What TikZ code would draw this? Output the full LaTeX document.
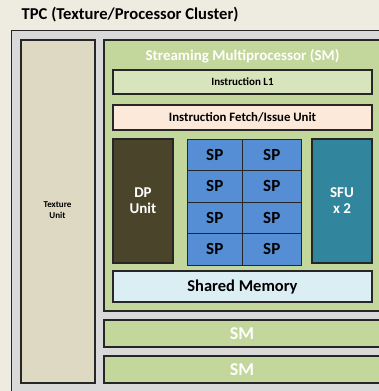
\documentclass[tikz,border=0pt]{standalone}
\usepackage{fontspec}
\setmainfont{Carlito}
\definecolor{bgc}{HTML}{EEECE1}
\definecolor{outerc}{HTML}{D9D9D9}
\definecolor{texc}{HTML}{DDD9C3}
\definecolor{smc}{HTML}{C3D69B}
\definecolor{l1c}{HTML}{D7E4BC}
\definecolor{fetchc}{HTML}{FDE9D9}
\definecolor{dpc}{HTML}{4A452A}
\definecolor{spc}{HTML}{558ED5}
\definecolor{sfuc}{HTML}{31859C}
\definecolor{shmc}{HTML}{DBEEF4}
\definecolor{linec}{HTML}{262626}
\tikzset{
  blk/.style={draw=linec, line width=1.2pt},
  lbl/.style={font=\bfseries, align=center, inner sep=0pt},
}
\begin{document}
\begin{tikzpicture}[x=1pt,y=-1pt]
\useasboundingbox (0,0) rectangle (379,391);
\fill[bgc] (0,0) rectangle (379,391);
\begin{scope}
\clip (0,0) rectangle (379,391);
\node[lbl, anchor=west, font=\fontsize{16.6}{18}\bfseries] (title) at (21.5,15) {TPC (Texture/Processor Cluster)};
\draw[blk, fill=outerc, line width=1.4pt] (11.5,30.5) rectangle (400,400);
\draw[blk, fill=texc] (21,40) rectangle (95,383);
\node[lbl, font=\fontsize{9}{11}\bfseries] (tex) at (57.5,210) {Texture\\Unit};
\draw[blk, fill=smc] (104,40) rectangle (400,311);
\node[lbl, text=white, font=\fontsize{15}{16}\bfseries] (smt) at (242.5,56) {Streaming Multiprocessor (SM)};
\draw[blk, fill=l1c] (113,70) rectangle (372,94);
\node[lbl, font=\fontsize{11}{12}\bfseries] (l1) at (242.5,82) {Instruction L1};
\draw[blk, fill=fetchc] (113,105) rectangle (372,130);
\node[lbl, font=\fontsize{12.8}{14}\bfseries] (fetch) at (242.5,117.5) {Instruction Fetch/Issue Unit};
\draw[blk, fill=dpc] (113,139) rectangle (173,263);
\node[lbl, font=\fontsize{15}{16}\bfseries, text=white] (dp) at (143,201) {DP\\Unit};
\foreach \r/\ya/\yb in {0/139/170.5,1/170.5/202,2/202/233.5,3/233.5/265}{
  \foreach \c/\xa/\xb in {0/187/242.5,1/242.5/301}{
    \draw[draw=linec, line width=0.9pt, fill=spc] (\xa,\ya) rectangle (\xb,\yb);
    \node[lbl, font=\fontsize{17}{19}\bfseries] (sp\r\c) at ({(\xa+\xb)/2},{(\ya+\yb)/2}) {SP};
  }
}
\draw[blk, fill=sfuc] (312,139) rectangle (372,263);
\node[lbl, font=\fontsize{15}{16}\bfseries, text=white] (sfu) at (342,201) {SFU\\x 2};
\draw[blk, fill=shmc] (113,271) rectangle (372,302);
\node[lbl, font=\fontsize{16.5}{18}\bfseries] (shm) at (242.5,287) {Shared Memory};
\draw[blk, fill=smc] (104,320) rectangle (400,347);
\node[lbl, text=white, font=\fontsize{18}{20}\bfseries] (sm2) at (242,334) {SM};
\draw[blk, fill=smc] (104,356) rectangle (400,383);
\node[lbl, text=white, font=\fontsize{18}{20}\bfseries] (sm3) at (242,370) {SM};
\end{scope}
\end{tikzpicture}
\end{document}
